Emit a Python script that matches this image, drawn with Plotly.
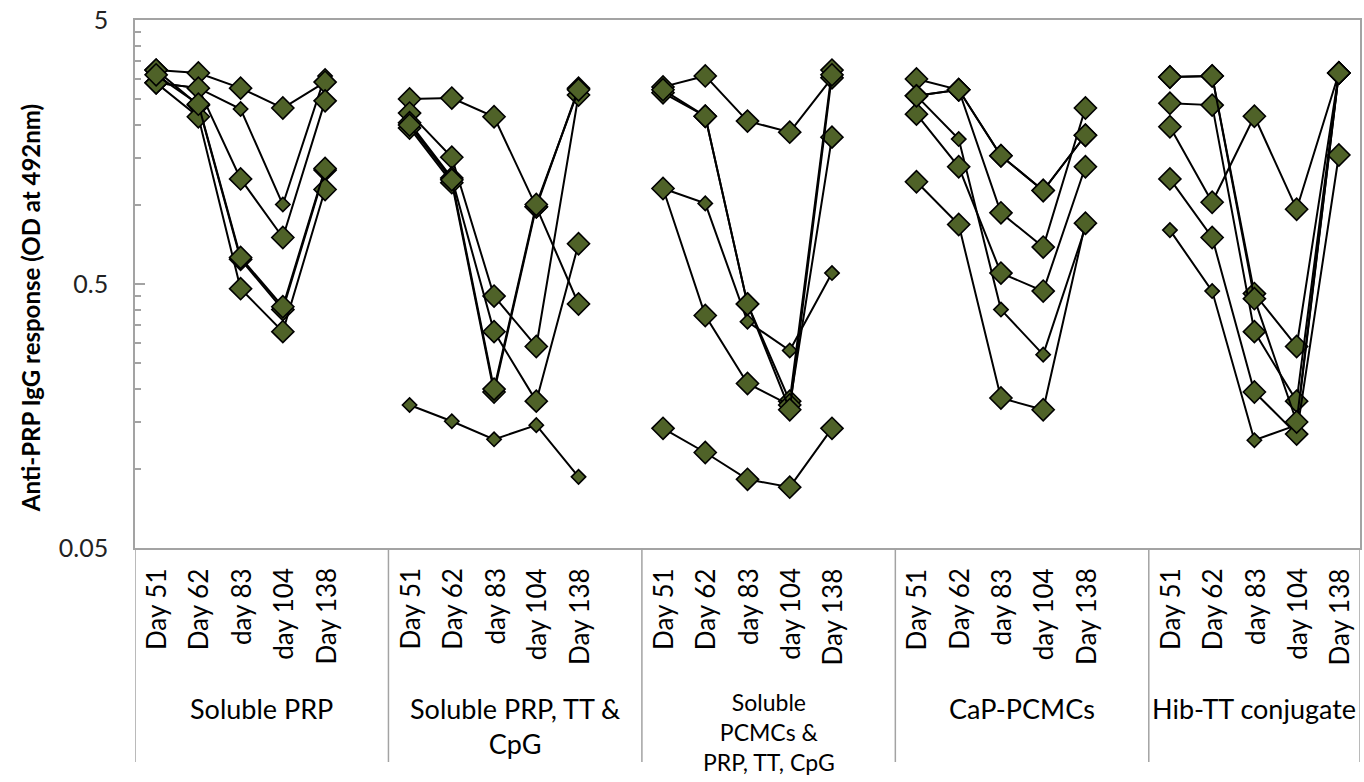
import plotly.graph_objects as go

# Sampling days and treatment groups
days = ["Day 51", "Day 62", "day 83", "day 104", "Day 138"]
groups = [
    "Soluble PRP",
    "Soluble PRP, TT &<br>CpG",
    "Soluble<br>PCMCs &<br>PRP, TT, CpG",
    "CaP-PCMCs",
    "Hib-TT conjugate",
]

# Anti-PRP IgG (OD at 492 nm) per mouse; 5 values per group, groups in order
mouse_1 = [3.23, 3.15, 2.76, 2.32, 2.91,
           2.51, 2.53, 2.15, 0.98, 0.42,
           2.79, 3.07, 2.07, 1.88, 3.02,
           2.99, 2.72, 1.53, 1.13, 1.83,
           3.04, 3.07, 0.46, 0.29, 3.15]
mouse_2 = [2.89, 2.76, 1.25, 0.75, 2.47,
           2.22, 1.51, 0.45, 0.29, 2.60,
           2.65, 2.16, 0.42, 0.18, 3.23,
           2.58, 2.72, 0.93, 0.69, 2.32,
           2.42, 2.38, 0.33, 0.18, 3.15]
mouse_3 = [3.23, 2.38, 0.62, 0.40, 1.35,
           2.04, 1.26, 0.33, 0.18, 0.71,
           1.15, 0.38, 0.21, 0.174, 1.80,
           2.20, 1.39, 0.55, 0.47, 1.39,
           1.97, 1.02, 2.16, 0.96, 3.15]
mouse_4 = [2.89, 2.15, 0.48, 0.33, 1.14,
           1.95, 1.21, 0.195, 0.98, 2.76,
           0.142, 0.115, 0.091, 0.085, 0.142,
           1.22, 0.84, 0.185, 0.167, 0.85,
           1.25, 0.75, 0.195, 0.135, 1.54]
mouse_5 = [3.10, 2.40, 0.63, 0.41, 1.37,
           2.00, 1.24, 0.20, 1.00, 2.72,
           2.72, 2.16, 0.42, 0.167, 3.10,
           2.58, 2.72, 1.53, 1.13, 1.83,
           3.04, 3.07, 0.44, 0.150, 3.15]
mouse_6 = [2.89, 2.76, 2.30, 1.00, 3.07,
           0.174, 0.151, 0.129, 0.146, 0.093,
           1.15, 1.01, 0.36, 0.28, 0.55,
           2.58, 1.77, 0.40, 0.27, 0.82,
           0.80, 0.47, 0.128, 0.146, 3.15]

y_tick_vals = [0.05, 0.5, 5]
y_tick_text = ["0.05", "0.5", "5"]

FONT = "Lato"
AXIS_GREY = "#a3a3a3"
FILL = "#4f6228"
n_days = len(days)
slot = n_days + 1          # one empty slot after each group breaks the lines
n_slots = len(groups) * slot - 1


def spread(values):
    """Place 5 values per group on the category slots, leaving gaps."""
    out = [None] * n_slots
    for g in range(len(groups)):
        for i in range(n_days):
            out[g * slot + i] = values[g * n_days + i]
    return out


x_slots = list(range(n_slots))
fig = go.Figure()

series = [(mouse_6, 11), (mouse_1, 17), (mouse_2, 17), (mouse_3, 17),
          (mouse_4, 17), (mouse_5, 17)]
for vals, msize in series:
    fig.add_trace(go.Scatter(
        x=x_slots, y=spread(vals), mode="lines+markers",
        connectgaps=False,
        line=dict(color="black", width=2),
        marker=dict(symbol="diamond", size=msize, color=FILL,
                    line=dict(color="black", width=1.6)),
        hoverinfo="y",
    ))

# minor ticks at every 0.05 / 0.5 step inside each decade
minor_vals = [0.05 * k for k in range(2, 10)] + [0.5 * k for k in range(2, 10)]

H_PLOT = 528
def py(px):
    """pixel offset below the plot top -> paper coordinate"""
    return (548 - px) / H_PLOT

fig.update_layout(
    width=1364, height=782,
    margin=dict(l=135, r=2, t=20, b=234),
    paper_bgcolor="white", plot_bgcolor="white",
    showlegend=False,
    font=dict(family=FONT, color="black"),
    xaxis=dict(range=[-0.5, n_slots - 0.5], showgrid=False, zeroline=False,
               showticklabels=False, ticks="",
               showline=True, mirror=True, linecolor=AXIS_GREY, linewidth=1.5),
    yaxis=dict(type="log", range=[-1.30103, 0.69897], showgrid=False,
               tickvals=y_tick_vals, ticktext=y_tick_text,
               ticks="inside", ticklen=10, tickwidth=1.5, tickcolor=AXIS_GREY,
               tickfont=dict(family=FONT, size=25, color="#222"),
               ticklabelstandoff=20,
               minor=dict(tickmode="array", tickvals=minor_vals, ticks="inside",
                          ticklen=6, tickwidth=1.5, tickcolor=AXIS_GREY,
                          showgrid=False),
               showline=True, mirror=True, linecolor=AXIS_GREY, linewidth=1.5),
)

shapes = []
for g in range(len(groups) + 1):
    xb = g * slot - 0.5 if g < len(groups) else n_slots - 0.5
    shapes.append(dict(type="line", xref="x", yref="paper",
                       x0=xb, x1=xb, y0=0, y1=py(762),
                       line=dict(color=AXIS_GREY, width=1.5)))
fig.update_layout(shapes=shapes)

annotations = []
for g, gname in enumerate(groups):
    for i, d in enumerate(days):
        annotations.append(dict(
            x=g * slot + i, y=py(566), xref="x", yref="paper",
            text=d, showarrow=False, textangle=-90,
            xanchor="center", yanchor="top",
            font=dict(family=FONT, size=26, color="black")))
    x0 = g * slot - 0.5
    x1 = g * slot + n_days - 0.5 if g == len(groups) - 1 else (g + 1) * slot - 0.5
    small = g == 2
    annotations.append(dict(
        x=(x0 + x1) / 2, y=py(686 if small else 690), xref="x", yref="paper",
        text=gname, showarrow=False, xanchor="center", yanchor="top",
        align="center",
        font=dict(family=FONT, size=23 if small else 27, color="black")))

annotations.append(dict(
    x=(30 - 135) / 1227, y=py(308), xref="paper", yref="paper",
    text="<b>Anti-PRP IgG response (OD at 492nm)</b>", showarrow=False,
    textangle=-90, xanchor="center", yanchor="middle",
    font=dict(family=FONT, size=24, color="black")))
fig.update_layout(annotations=annotations)

fig.write_html("out.html")
